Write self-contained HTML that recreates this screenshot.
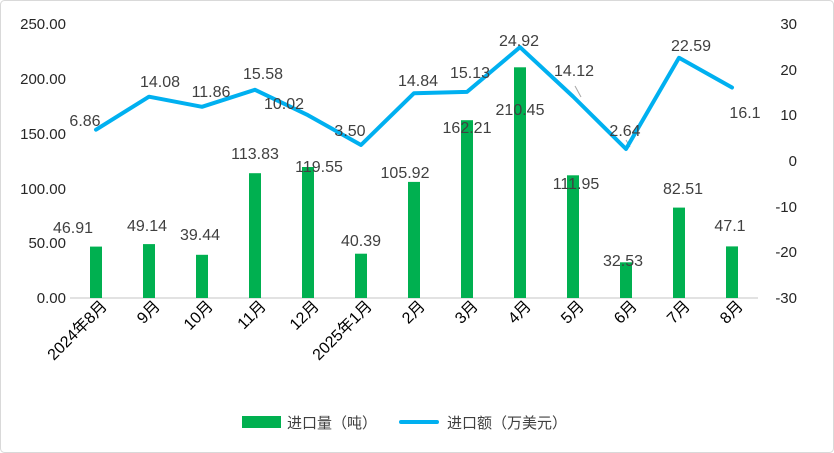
<!DOCTYPE html>
<html><head><meta charset="utf-8"><style>
body{margin:0;background:#fff}
svg{display:block;font-family:"Liberation Sans","Noto Sans CJK SC",sans-serif}
</style></head><body>
<svg width="834" height="453" viewBox="0 0 834 453">
<rect x="0.5" y="0.5" width="833" height="452" rx="4" fill="#fff" stroke="#d9d9d9"/>
<g font-size="15" fill="#262626">
<g text-anchor="end">
<text x="66" y="29">250.00</text><text x="66" y="84">200.00</text><text x="66" y="139">150.00</text>
<text x="66" y="194">100.00</text><text x="66" y="248">50.00</text><text x="66" y="303">0.00</text>
<text x="797" y="29">30</text><text x="797" y="75">20</text><text x="797" y="120">10</text>
<text x="797" y="166">0</text><text x="797" y="212">-10</text><text x="797" y="257">-20</text><text x="797" y="303">-30</text>
</g></g>
<line x1="70" y1="298" x2="758" y2="298" stroke="#d9d9d9" stroke-width="1.5"/>
<g fill="#00b050">
<rect x="90" y="246.6" width="12" height="51.4"/>
<rect x="143" y="244.1" width="12" height="53.9"/>
<rect x="196" y="254.8" width="12" height="43.2"/>
<rect x="249" y="173.2" width="12" height="124.8"/>
<rect x="302" y="167" width="12" height="131"/>
<rect x="355" y="253.7" width="12" height="44.3"/>
<rect x="408" y="181.9" width="12" height="116.1"/>
<rect x="461" y="120.2" width="12" height="177.8"/>
<rect x="514" y="67.3" width="12" height="230.7"/>
<rect x="567" y="175.3" width="12" height="122.7"/>
<rect x="620" y="262.3" width="12" height="35.7"/>
<rect x="673" y="207.6" width="12" height="90.4"/>
<rect x="726" y="246.4" width="12" height="51.6"/>
</g>
<line x1="575" y1="86" x2="581" y2="97" stroke="#a6a6a6"/>
<line x1="626" y1="140" x2="630" y2="147" stroke="#a6a6a6"/>
<polyline fill="none" stroke="#00b0f0" stroke-width="4" stroke-linejoin="round" stroke-linecap="round"
points="96,129.7 149,96.7 202,106.8 255,89.8 308,115.2 361,145 414,93.2 467,91.9 520,47.2 573,96.5 626,149 679,57.8 732,87.5"/>
<g font-size="16" fill="#404040" text-anchor="middle">
<text x="73" y="233">46.91</text><text x="147" y="231">49.14</text><text x="200" y="240">39.44</text>
<text x="255" y="159">113.83</text><text x="319" y="172">119.55</text><text x="361" y="246">40.39</text>
<text x="405" y="178">105.92</text><text x="467" y="133">162.21</text><text x="520" y="115">210.45</text>
<text x="576" y="189">111.95</text><text x="623" y="266">32.53</text><text x="683" y="194">82.51</text>
<text x="730" y="231">47.1</text>
<text x="85" y="126">6.86</text><text x="160" y="87">14.08</text><text x="211" y="97">11.86</text>
<text x="263" y="79">15.58</text><text x="284" y="109">10.02</text><text x="350" y="136">3.50</text>
<text x="418" y="86">14.84</text><text x="470" y="78">15.13</text><text x="519" y="46">24.92</text>
<text x="574" y="76">14.12</text><text x="625" y="136">2.64</text><text x="691" y="51">22.59</text>
<text x="745" y="118">16.1</text>
</g>
<g font-size="16" fill="#000" text-anchor="end">
<text transform="translate(108,307) rotate(-45)">2024年8月</text>
<text transform="translate(161,307) rotate(-45)">9月</text>
<text transform="translate(214,307) rotate(-45)">10月</text>
<text transform="translate(267,307) rotate(-45)">11月</text>
<text transform="translate(320,307) rotate(-45)">12月</text>
<text transform="translate(373,307) rotate(-45)">2025年1月</text>
<text transform="translate(426,307) rotate(-45)">2月</text>
<text transform="translate(479,307) rotate(-45)">3月</text>
<text transform="translate(532,307) rotate(-45)">4月</text>
<text transform="translate(585,307) rotate(-45)">5月</text>
<text transform="translate(638,307) rotate(-45)">6月</text>
<text transform="translate(691,307) rotate(-45)">7月</text>
<text transform="translate(744,307) rotate(-45)">8月</text>
</g>
<rect x="242" y="416" width="39" height="12" fill="#00b050"/>
<text x="287" y="428" font-size="15" fill="#404040">进口量（吨）</text>
<line x1="401" y1="422" x2="437" y2="422" stroke="#00b0f0" stroke-width="4" stroke-linecap="round"/>
<text x="447" y="428" font-size="15" fill="#404040">进口额（万美元）</text>
</svg>
</body></html>
